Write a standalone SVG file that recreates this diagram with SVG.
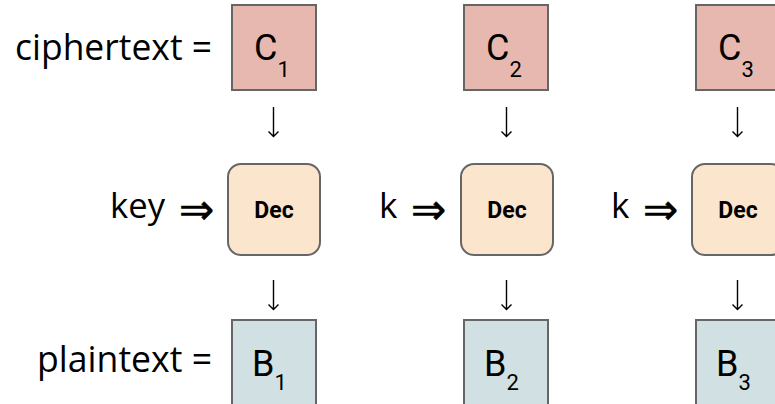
<svg xmlns="http://www.w3.org/2000/svg" width="775" height="404" viewBox="0 0 775 404">
<style>
.lbl{font-family:"Open Sans","Noto Sans",sans-serif;font-size:37px;fill:#000}
.key{font-family:"Open Sans","Noto Sans",sans-serif;font-size:35px;fill:#000}
.dbl{font-family:"DejaVu Sans",sans-serif;font-size:42px;fill:#000;stroke:#000;stroke-width:0.6}
.c{fill:#e6b8af;stroke:#666;stroke-width:2}
.b{fill:#d0e0e3;stroke:#666;stroke-width:2}
.d{fill:#fce5cd;stroke:#666;stroke-width:2}
.t{font-family:Roboto,"Liberation Sans",sans-serif;font-size:36px;fill:#000}
.s{font-size:22px}
.dt{font-family:Roboto,"Liberation Sans",sans-serif;font-size:23px;font-weight:bold;fill:#000;text-anchor:middle}
.arr{stroke:#000;stroke-width:1.4;fill:none}
</style>
<rect width="775" height="404" fill="#fff"/>
<text class="lbl" x="212" y="60" text-anchor="end" textLength="197" lengthAdjust="spacingAndGlyphs">ciphertext =</text>
<text class="lbl" x="212" y="372" text-anchor="end" textLength="175" lengthAdjust="spacingAndGlyphs">plaintext =</text>
<g id="key1"><text class="key" x="110" y="218" textLength="55" lengthAdjust="spacingAndGlyphs">key</text><text class="dbl" x="179" y="224">⇒</text></g>
<g id="key2"><text class="key" x="379" y="218">k</text><text class="dbl" x="411" y="224">⇒</text></g>
<g id="key3"><text class="key" x="611" y="218">k</text><text class="dbl" x="643" y="224">⇒</text></g>
<g id="C1"><rect class="c" x="232" y="5" width="84" height="85"/><text class="t" x="254" y="60">C<tspan class="s" dy="17">1</tspan></text></g>
<g id="C2"><rect class="c" x="464" y="5" width="84" height="85"/><text class="t" x="486" y="60">C<tspan class="s" dy="17">2</tspan></text></g>
<g id="C3"><rect class="c" x="696" y="5" width="84" height="85"/><text class="t" x="718" y="60">C<tspan class="s" dy="17">3</tspan></text></g>
<g id="Dec1"><rect class="d" x="228" y="164" width="92" height="91" rx="13"/><text class="dt" x="274" y="218">Dec</text></g>
<g id="Dec2"><rect class="d" x="461" y="164" width="92" height="91" rx="13"/><text class="dt" x="507" y="218">Dec</text></g>
<g id="Dec3"><rect class="d" x="692" y="164" width="92" height="91" rx="13"/><text class="dt" x="738" y="218">Dec</text></g>
<g id="B1"><rect class="b" x="232" y="320" width="84" height="90"/><text class="t" x="252" y="376">B<tspan class="s" dy="14">1</tspan></text></g>
<g id="B2"><rect class="b" x="464" y="320" width="84" height="90"/><text class="t" x="484" y="376">B<tspan class="s" dy="14">2</tspan></text></g>
<g id="B3"><rect class="b" x="696" y="320" width="84" height="90"/><text class="t" x="716" y="376">B<tspan class="s" dy="14">3</tspan></text></g>
<g id="connectors">
<path class="arr" d="M273.5 107V136.5M268.5 131.5L273.5 136.5L278.5 131.5"/>
<path class="arr" d="M506.5 107V136.5M501.5 131.5L506.5 136.5L511.5 131.5"/>
<path class="arr" d="M737.5 107V136.5M732.5 131.5L737.5 136.5L742.5 131.5"/>
<path class="arr" d="M273.5 280V309.5M268.5 304.5L273.5 309.5L278.5 304.5"/>
<path class="arr" d="M506.5 280V309.5M501.5 304.5L506.5 309.5L511.5 304.5"/>
<path class="arr" d="M737.5 280V309.5M732.5 304.5L737.5 309.5L742.5 304.5"/>
</g>
</svg>
